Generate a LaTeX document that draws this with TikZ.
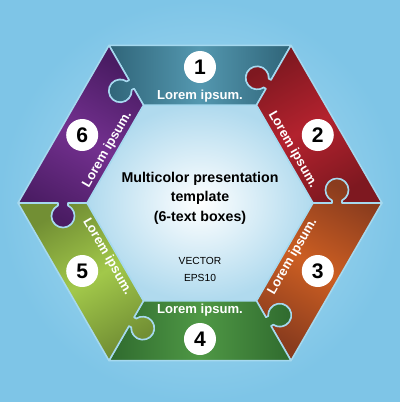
\documentclass[tikz,border=0pt]{standalone}
\usepackage{fontspec}
\setmainfont{Liberation Sans}
\usetikzlibrary{positioning}

\definecolor{bgblue}{HTML}{7EC5E7}
\definecolor{bglight}{HTML}{B4E1F4}
\definecolor{hexedge}{HTML}{B0DAEE}
\definecolor{seam}{HTML}{A6D9EF}
\definecolor{piece1dark}{HTML}{2F6478}
\definecolor{piece1light}{HTML}{5498B0}
\definecolor{piece2dark}{HTML}{7E1820}
\definecolor{piece2light}{HTML}{B3222E}
\definecolor{piece3dark}{HTML}{8A3C1E}
\definecolor{piece3light}{HTML}{CC5E22}
\definecolor{piece4dark}{HTML}{2F6A2E}
\definecolor{piece4light}{HTML}{4F9845}
\definecolor{piece5dark}{HTML}{728F34}
\definecolor{piece5light}{HTML}{A2C84A}
\definecolor{piece6dark}{HTML}{4A1C63}
\definecolor{piece6light}{HTML}{73308F}

\tikzset{
    piece/.style={draw=seam, line width=1.1pt, line join=round},
    numcircle/.style={circle, fill=white, minimum size=8mm, inner sep=0pt, font=\fontsize{15}{15}\selectfont\bfseries},
    lorem/.style={text=white, inner sep=0pt, font=\fontsize{9.3}{11}\selectfont\bfseries},
    title/.style={align=center, inner sep=0pt, font=\fontsize{10.1}{13.9}\selectfont\bfseries},
    note/.style={align=center, inner sep=0pt, font=\fontsize{7.3}{12.1}\selectfont}
}

\begin{document}
\begin{tikzpicture}[x=0.25mm, y=0.25mm]
    \useasboundingbox (-200,-199) rectangle (200,203);
    \fill[inner color=bglight, outer color=bgblue] (-200,-199) rectangle (200,203);

    % inner hexagon
    \fill[inner color=white, outer color=hexedge] (0:113) -- (60:113) -- (120:113) -- (180:113) -- (240:113) -- (300:113) -- cycle;

    % puzzle pieces: knob on the ccw side, socket on the cw side
    \foreach \p/\a/\r [count=\i] in {90/60/0, 30/0/-60, -30/-60/60, -90/-120/0, 210/180/-60, 150/120/60}{
        \begin{scope}[rotate=\a]
            \path[piece, left color=piece\i dark, right color=piece\i dark, middle color=piece\i light, shading angle=\p]
                (0:182) -- (60:182)
                -- ([rotate=60]142,0) -- ([rotate=60]142,2.64)
                arc[start angle=-4.23, end angle=304.23, radius=11.5]
                -- ([rotate=60]132,0) -- (60:113) -- (0:113)
                -- (132,0) -- (132,2.64)
                arc[start angle=244.23, end angle=-64.23, radius=11.5]
                -- (142,0) -- cycle;
        \end{scope}
        \node[numcircle] (num\i) at (\p:136) {\i};
        \node[lorem, rotate=\r] (txt\i) at (\p:107) {Lorem ipsum.};
    }

    \node[title] (ttl) at (0,5) {Multicolor presentation\\template\\(6-text boxes)};
    \node[note] (eps) at (0,-66) {VECTOR\\EPS10};
\end{tikzpicture}
\end{document}
